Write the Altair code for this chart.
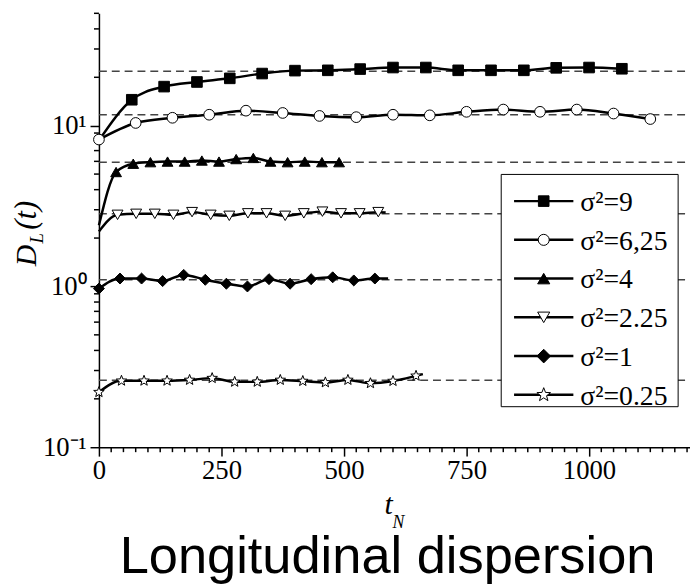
import math
import altair as alt
import pandas as pd

# ---------------- data ----------------
labels = ["σ²=9", "σ²=6,25", "σ²=4", "σ²=2.25", "σ²=1", "σ²=0.25"]

sq_x = [0, 67, 133, 200, 267, 333, 400, 467, 533, 600, 667, 733, 800, 867, 933, 1000, 1067]
sq_y = [8.1, 14.5, 17.5, 18.7, 19.7, 21.1, 22.0, 22.1, 22.5, 23.0, 23.0, 22.1, 22.1, 22.1, 22.9, 23.0, 22.6]
sq_m = [0, 1, 1, 1, 1, 1, 1, 1, 1, 1, 1, 1, 1, 1, 1, 1, 1]

ci_x = [0, 75, 150, 225, 300, 375, 450, 525, 600, 675, 750, 825, 900, 975, 1050, 1125]
ci_y = [8.2, 10.4, 11.2, 11.7, 12.4, 12.0, 11.5, 11.3, 11.7, 11.6, 12.2, 12.6, 12.2, 12.6, 11.9, 11.0]
ci_m = [1, 1, 1, 1, 1, 1, 1, 1, 1, 1, 1, 1, 1, 1, 1, 1]

tu_x = [0, 35, 70, 105, 140, 175, 210, 245, 280, 315, 350, 385, 420, 455, 490]
tu_y = [2.4, 5.15, 5.8, 5.93, 5.98, 5.98, 6.07, 5.98, 6.2, 6.3, 5.98, 5.93, 5.98, 5.93, 5.93]
tu_m = [0, 1, 1, 1, 1, 1, 1, 1, 1, 1, 1, 1, 1, 1, 1]

td_x = [0, 38, 76, 114, 152, 190, 228, 266, 304, 342, 380, 418, 456, 494, 532, 570, 585]
td_y = [2.2, 2.79, 2.83, 2.83, 2.79, 2.90, 2.79, 2.75, 2.85, 2.85, 2.75, 2.85, 2.92, 2.85, 2.85, 2.90, 2.88]
td_m = [0, 1, 1, 1, 1, 1, 1, 1, 1, 1, 1, 1, 1, 1, 1, 1, 0]

di_x = [0, 43, 87, 130, 173, 217, 260, 303, 347, 390, 433, 477, 520, 563, 590]
di_y = [0.97, 1.12, 1.12, 1.08, 1.18, 1.10, 1.04, 1.00, 1.11, 1.04, 1.11, 1.14, 1.09, 1.12, 1.12]
di_m = [1, 1, 1, 1, 1, 1, 1, 1, 1, 1, 1, 1, 1, 1, 0]

st_x = [0, 46, 92, 139, 185, 231, 277, 323, 370, 416, 462, 508, 554, 600, 647, 661]
st_y = [0.22, 0.259, 0.259, 0.259, 0.262, 0.269, 0.255, 0.255, 0.262, 0.258, 0.253, 0.262, 0.250, 0.258, 0.278, 0.285]
st_m = [1, 1, 1, 1, 1, 1, 1, 1, 1, 1, 1, 1, 1, 1, 1, 0]

asymptotes = [21.8, 11.7, 5.93, 2.83, 1.10, 0.261]

x_major = [0, 250, 500, 750, 1000]
x_minor = [25, 50, 75, 100, 125, 150, 175, 200, 225, 275, 300, 325, 350, 375, 400, 425, 450, 475,
           525, 550, 575, 600, 625, 650, 675, 700, 725, 775, 800, 825, 850, 875, 900, 925, 950, 975,
           1025, 1050, 1075, 1100, 1125, 1150, 1175, 1200]
y_major = [0.1, 1, 10]
y_minor = [0.2, 0.3, 0.4, 0.5, 0.6, 0.7, 0.8, 0.9, 2, 3, 4, 5, 6, 7, 8, 9, 20, 30, 40, 50]

# ---------------- build tables ----------------
series = [
    (labels[0], sq_x, sq_y, sq_m),
    (labels[1], ci_x, ci_y, ci_m),
    (labels[2], tu_x, tu_y, tu_m),
    (labels[3], td_x, td_y, td_m),
    (labels[4], di_x, di_y, di_m),
    (labels[5], st_x, st_y, st_m),
]
rows = []
for name, xs, ys, ms in series:
    for xv, yv, mv in zip(xs, ys, ms):
        rows.append({"s": name, "x": xv, "y": yv, "m": mv})
df = pd.DataFrame(rows)

# star symbol path (unit radius)
pts = []
for i in range(10):
    a = math.radians(-90 + 36 * i)
    r = 1.0 if i % 2 == 0 else 0.42
    pts.append(f"{r * math.cos(a):.3f},{r * math.sin(a):.3f}")
star_path = "M" + "L".join(pts) + "Z"

shape_range = ["square", "circle", "triangle-up", "triangle-down", "diamond", star_path]
fill_range = ["black", "white", "black", "white", "black", "white"]
size_range = [115, 125, 150, 150, 190, 210]

W, H = 598, 439
SERIF = "Liberation Serif"
SANS = "Liberation Sans"

xscale = alt.Scale(domain=[0, 1206], nice=False, zero=False)
yscale = alt.Scale(type="log", domain=[0.1, 50], nice=False)

x_axis = alt.Axis(values=x_major, tickSize=9, tickWidth=1.5, domainWidth=1.5, labelFont=SERIF,
                  labelFontSize=27, labelPadding=2, labelColor="black", domainColor="black",
                  tickColor="black", grid=False, title=None, labelFlush=False,
                  labelExpr="format(datum.value, 'd')")
y_axis = alt.Axis(values=y_major, tickSize=9, tickWidth=1.5, domainWidth=1.5, labelFont=SERIF,
                  labelFontSize=27, labelPadding=4, labelColor="black", domainColor="black",
                  tickColor="black", grid=False, title=None,
                  labelExpr="datum.value >= 5 ? '10¹' : (datum.value >= 0.5 ? '10⁰' : '10⁻¹')")

X = alt.X("x:Q", scale=xscale, axis=x_axis)
Y = alt.Y("y:Q", scale=yscale, axis=y_axis)

# dashed asymptotes
dash_df = pd.DataFrame({"y": asymptotes})
dashes = alt.Chart(dash_df).mark_rule(strokeDash=[8, 5], stroke="#444444", strokeWidth=1.5).encode(
    y=Y, x=alt.value(0), x2=alt.value(W))

# minor ticks
ymin_df = pd.DataFrame({"y": y_minor})
ymin = alt.Chart(ymin_df).mark_rule(stroke="black", strokeWidth=1.5).encode(
    y=Y, x=alt.value(-5), x2=alt.value(0))
xmin_df = pd.DataFrame({"x": x_minor})
xmin = alt.Chart(xmin_df).mark_rule(stroke="black", strokeWidth=1.5).encode(
    x=X, y=alt.value(H), y2=alt.value(H + 5))

lines = alt.Chart(df).mark_line(interpolate="monotone", color="black", strokeWidth=2.5).encode(
    x=X, y=Y, detail="s:N", order="x:Q")

markers = alt.Chart(df).transform_filter("datum.m == 1").mark_point(
    filled=True, stroke="black", strokeWidth=1, opacity=1).encode(
    x=X, y=Y,
    shape=alt.Shape("s:N", scale=alt.Scale(domain=labels, range=shape_range), legend=None),
    fill=alt.Fill("s:N", scale=alt.Scale(domain=labels, range=fill_range), legend=None),
    size=alt.Size("s:N", scale=alt.Scale(domain=labels, range=size_range), legend=None),
)

# ---------------- custom legend ----------------
LX0, LX1, LY0, LY1 = 407, 586, 163, 398
legend_layers = [
    alt.Chart(pd.DataFrame({"a": [0]})).mark_rect(fill="white", stroke="black", strokeWidth=1).encode(
        x=alt.value(LX0), x2=alt.value(LX1), y=alt.value(LY0), y2=alt.value(LY1))
]
for i, lab in enumerate(labels):
    yy = 190 + 39.2 * i
    one = pd.DataFrame({"a": [0]})
    legend_layers.append(alt.Chart(one).mark_rule(stroke="black", strokeWidth=2.5).encode(
        x=alt.value(420), x2=alt.value(480), y=alt.value(yy)))
    legend_layers.append(alt.Chart(one).mark_point(
        filled=True, stroke="black", strokeWidth=1, opacity=1, shape=shape_range[i],
        fill=fill_range[i], size=size_range[i]).encode(x=alt.value(450), y=alt.value(yy)))
    legend_layers.append(alt.Chart(one).mark_text(
        text=lab, font=SERIF, fontSize=28, align="left", baseline="alphabetic", color="black").encode(
        x=alt.value(487), y=alt.value(yy + 10)))

# ---------------- axis titles and caption ----------------
one = pd.DataFrame({"a": [0]})
texts = [
    alt.Chart(one).mark_text(text="D", font=SERIF, fontStyle="italic", fontSize=30, angle=270,
                             align="left", baseline="alphabetic", color="black").encode(
        x=alt.value(-64), y=alt.value(256)),
    alt.Chart(one).mark_text(text="L", font=SERIF, fontStyle="italic", fontSize=19, angle=270,
                             align="left", baseline="alphabetic", color="black").encode(
        x=alt.value(-57), y=alt.value(233)),
    alt.Chart(one).mark_text(text="(t)", font=SERIF, fontStyle="italic", fontSize=31, angle=270,
                             align="left", baseline="alphabetic", color="black").encode(
        x=alt.value(-64), y=alt.value(219)),
    alt.Chart(one).mark_text(text="t", font=SERIF, fontStyle="italic", fontSize=30,
                             align="center", baseline="alphabetic", color="black").encode(
        x=alt.value(293), y=alt.value(507)),
    alt.Chart(one).mark_text(text="N", font=SERIF, fontStyle="italic", fontSize=18,
                             align="center", baseline="alphabetic", color="black").encode(
        x=alt.value(303), y=alt.value(521)),
    alt.Chart(one).mark_text(text="Longitudinal dispersion", font=SANS, fontSize=53,
                             align="center", baseline="alphabetic", color="black").encode(
        x=alt.value(292), y=alt.value(566)),
]

chart = alt.layer(dashes, ymin, xmin, lines, markers, *legend_layers, *texts).properties(
    width=W, height=H,
    autosize=alt.AutoSizeParams(type="none"),
    padding={"left": 92, "top": 2, "right": 0, "bottom": 135},
).configure_view(stroke=None)

chart.save("out.html", embed_options={"renderer": "svg", "actions": False})
